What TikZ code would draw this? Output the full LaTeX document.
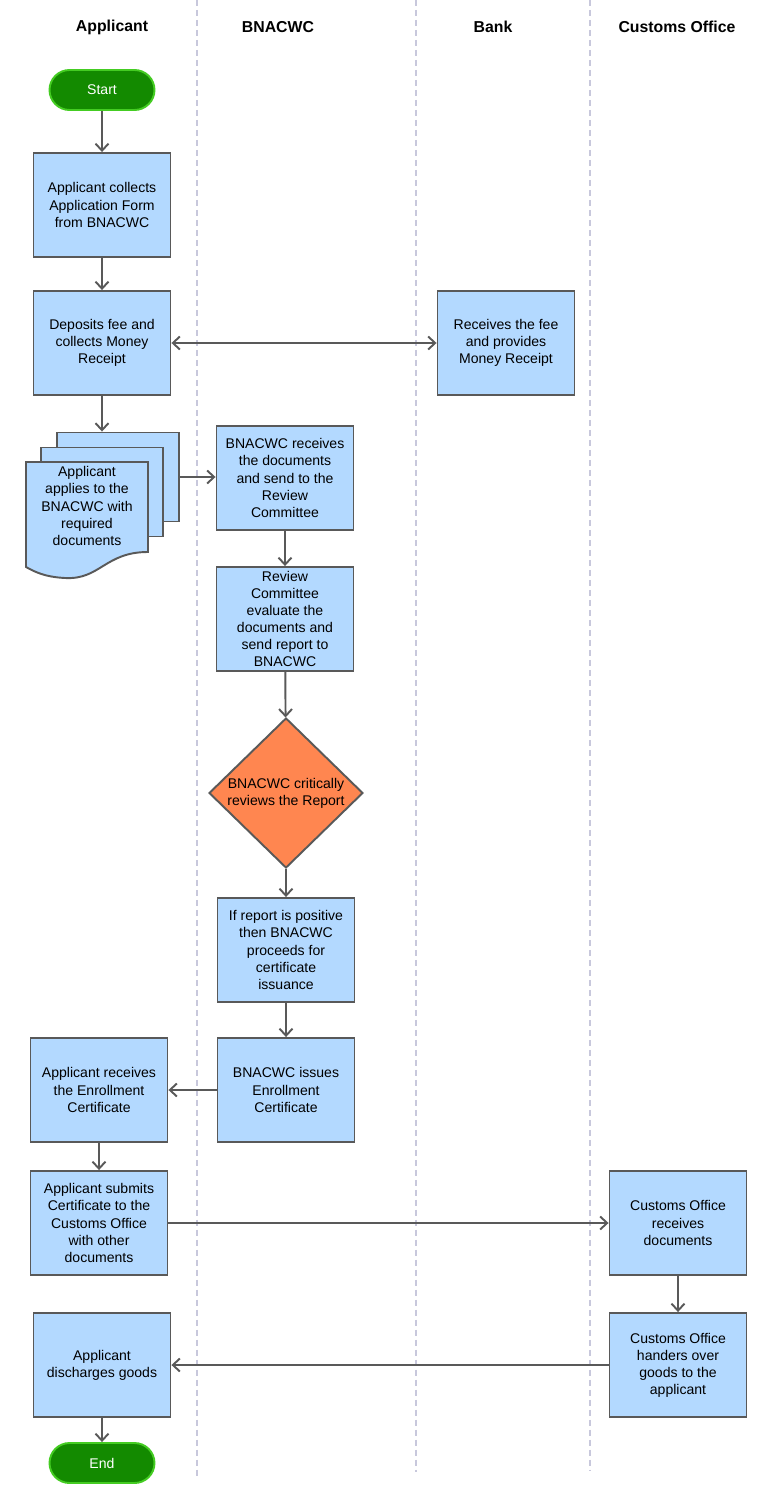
\documentclass[tikz,border=0pt]{standalone}
\usepackage{fontspec}
\setmainfont{Liberation Sans}
\usepackage{tikz}
\usetikzlibrary{shapes.geometric,arrows.meta}

\definecolor{boxblue}{HTML}{B3D9FF}
\definecolor{boxline}{HTML}{595959}
\definecolor{termgreen}{HTML}{138A00}
\definecolor{termline}{HTML}{44CC22}
\definecolor{decorange}{HTML}{FF8650}
\definecolor{lanegray}{HTML}{C8C8DC}

\begin{document}
\begin{tikzpicture}[x=0.02cm, y=-0.02cm,
    every node/.style={font=\fontsize{8}{9.7}\selectfont, align=center},
    box/.style={rectangle, draw=boxline, fill=boxblue, line width=1.1pt,
        minimum width=2.74cm, minimum height=2.08cm, inner sep=1pt},
    term/.style={rectangle, rounded corners=0.4cm, draw=termline, fill=termgreen,
        line width=1.1pt, text=white, minimum width=2.1cm, minimum height=0.8cm},
    decision/.style={diamond, draw=boxline, fill=decorange, line width=1.1pt,
        minimum width=3.08cm, minimum height=3cm, inner sep=0pt},
    header/.style={font=\fontsize{9}{11}\selectfont\bfseries},
    lane/.style={draw=lanegray, line width=1.1pt, dash pattern=on 0.12cm off 0.08cm},
    flow/.style={draw=boxline, line width=1.1pt,
        -{Straight Barb[length=1.4mm, width=2.6mm]}}]
    \useasboundingbox (0,0) rectangle (769,1503);

    % Lanes
    \draw[lane] (197,0) -- (197,1478);
    \draw[lane] (416,0) -- (416,1472);
    \draw[lane] (590,0) -- (590,1470);
    \node[header] (hApp) at (112,27) {Applicant};
    \node[header] (hBna) at (278,27) {BNACWC};
    \node[header] (hBank) at (493,27) {Bank};
    \node[header] (hCus) at (677,27) {Customs Office};

    % Applicant
    \node[term] (start) at (102,90) {Start};
    \node[box] (collect) at (102,205) {Applicant collects\\Application Form\\from BNACWC};
    \node[box] (deposit) at (102,343) {Deposits fee and\\collects Money\\Receipt};

    % Documents
    \node[box, minimum width=2.44cm, minimum height=1.78cm] (docc) at (118,477) {};
    \node[box, minimum width=2.44cm, minimum height=1.78cm] (docb) at (102,492) {};
    \draw[draw=boxline, fill=boxblue, line width=1.1pt]
        (26,462) -- (148,462) -- (148,552)
        .. controls (105,552) and (100,580) .. (65,578)
        .. controls (45,577) and (35,572) .. (26,567) -- cycle;
    \node (apply) at (87,506) {Applicant\\applies to the\\BNACWC with\\required\\documents};

    % Bank
    \node[box] (bank) at (506,343) {Receives the fee\\and provides\\Money Receipt};

    % BNACWC
    \node[box] (receive) at (285,478) {BNACWC receives\\the  documents\\and send to the\\Review\\Committee};
    \node[box] (review) at (285,619) {Review\\Committee\\evaluate  the\\documents and\\send report to\\BNACWC};
    \node[decision] (check) at (286,793) {BNACWC critically\\reviews the Report};
    \node[box] (positive) at (286,950) {If report is  positive\\then BNACWC\\proceeds for\\certificate\\issuance};
    \node[box] (issue) at (286,1090) {BNACWC issues\\Enrollment\\Certificate};

    % Applicant again
    \node[box] (getcert) at (99,1090) {Applicant receives\\the Enrollment\\Certificate};
    \node[box] (submit) at (99,1223) {Applicant submits\\Certificate to the\\Customs Office\\with other\\documents};
    \node[box] (discharge) at (102,1365) {Applicant\\discharges goods};
    \node[term] (end) at (102,1463) {End};

    % Customs Office
    \node[box] (cusget) at (678,1223) {Customs Office\\receives\\documents};
    \node[box] (handover) at (678,1365) {Customs Office\\handers over\\goods to the\\applicant};

    % Flow
    \draw[flow] (start) -- (collect);
    \draw[flow] (collect) -- (deposit);
    \draw[flow, {Straight Barb[length=1.4mm, width=2.6mm]}-{Straight Barb[length=1.4mm, width=2.6mm]}] (deposit) -- (bank);
    \draw[flow] (deposit.south) -- (deposit.south |- docc.north);
    \draw[flow] (docc.east) -- (docc.east -| receive.west);
    \draw[flow] (receive) -- (review);
    \draw[flow] (review) -- (check);
    \draw[flow] (check) -- (positive);
    \draw[flow] (positive) -- (issue);
    \draw[flow] (issue) -- (getcert);
    \draw[flow] (getcert) -- (submit);
    \draw[flow] (submit) -- (cusget);
    \draw[flow] (cusget) -- (handover);
    \draw[flow] (handover) -- (discharge);
    \draw[flow] (discharge) -- (end);
\end{tikzpicture}
\end{document}
